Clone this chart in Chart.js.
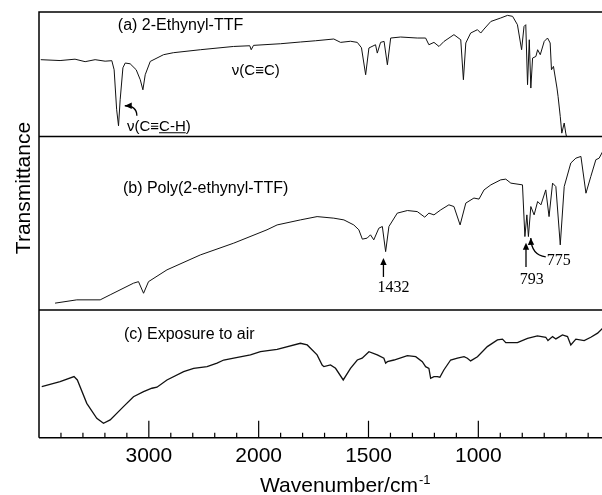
<!DOCTYPE html>
<html>
<head>
<meta charset="utf-8">
<script src="https://cdn.jsdelivr.net/npm/chart.js@4.4.1/dist/chart.umd.min.js"></script>
<style>
    html, body { margin: 0; padding: 0; background: #fff; overflow: hidden; }
</style>
</head>
<body>
<canvas id="ir_chart" width="602" height="495"></canvas>
<script>
// (a) 2-Ethynyl-TTF : 波数(cm-1) と透過率(パネル内 0-100)
const wn_a = [3984, 3808, 3672, 3580, 3489, 3398, 3337, 3316, 3293, 3276, 3261, 3236, 3215, 3170, 3115, 3078, 3054, 3033, 2987, 2866, 2777, 2531, 2230, 2081, 2068, 2047, 1901, 1810, 1741, 1658, 1627, 1582, 1551, 1532, 1513, 1498, 1468, 1460, 1445, 1429, 1414, 1399, 1354, 1278, 1240, 1225, 1202, 1179, 1156, 1111, 1080, 1068, 1057, 1035, 1004, 989, 974, 943, 898, 867, 844, 822, 803, 792, 784, 776, 768, 761, 753, 738, 730, 718, 700, 685, 673, 667, 658, 642, 637, 627, 620, 609, 602, 586, 533, 433];
const t_a = [61.7, 61.0, 62.1, 60.1, 61.7, 60.5, 60.9, 53.6, 21.5, 8.6, 29.5, 55.2, 59.0, 58.4, 53.6, 45.6, 37.5, 49.6, 60.3, 65.7, 67.3, 69.7, 72.3, 72.9, 69.7, 73.2, 74.5, 75.9, 76.9, 78.3, 75.6, 76.5, 75.6, 71.3, 49.6, 71.1, 73.7, 67.0, 75.6, 76.4, 57.6, 79.1, 79.9, 79.1, 79.1, 73.7, 75.6, 72.3, 76.4, 81.8, 77.7, 45.6, 75.1, 83.1, 85.8, 83.1, 86.3, 92.4, 95.2, 97.3, 96.5, 89.8, 69.7, 88.4, 89.8, 41.6, 77.7, 38.9, 63.0, 64.3, 69.7, 65.7, 76.4, 79.1, 75.1, 53.6, 56.3, 38.9, 32.2, 16.1, 2.7, 10.8, 2.7, -10.7, -26.8, -34.8];

// (b) Poly(2-ethynyl-TTF)
const wn_b = [3854, 3656, 3443, 3352, 3140, 3094, 3048, 3003, 2835, 2531, 2227, 1962, 1916, 1810, 1734, 1658, 1612, 1567, 1544, 1528, 1506, 1491, 1476, 1453, 1437, 1422, 1407, 1369, 1323, 1278, 1244, 1225, 1202, 1171, 1134, 1111, 1083, 1057, 1020, 997, 974, 943, 898, 875, 852, 799, 788, 779, 772, 761, 746, 730, 715, 693, 678, 662, 647, 627, 609, 579, 556, 533, 510, 488, 465, 450, 434];
const t_b = [3.9, 5.8, 5.8, 8.7, 15.4, 16.3, 9.6, 16.3, 23.1, 31.7, 38.5, 46.2, 49.0, 51.9, 53.8, 52.9, 51.9, 49.0, 46.2, 40.8, 41.4, 43.3, 40.4, 47.1, 48.1, 33.6, 48.1, 55.8, 57.3, 56.7, 53.5, 55.8, 54.8, 57.7, 60.6, 59.6, 49.0, 61.6, 64.5, 63.9, 69.2, 72.1, 75.0, 75.4, 73.1, 72.1, 42.3, 54.8, 42.3, 59.6, 54.8, 62.5, 60.6, 69.2, 53.8, 73.1, 71.1, 37.5, 71.1, 84.7, 87.5, 88.5, 67.3, 76.9, 86.6, 87.5, 91.3];

// (c) Exposure to air
const wn_c = [3975, 3808, 3681, 3651, 3565, 3474, 3413, 3352, 3231, 3140, 3048, 2972, 2926, 2835, 2683, 2592, 2470, 2379, 2318, 2227, 2075, 1992, 1916, 1810, 1779, 1734, 1711, 1703, 1673, 1650, 1615, 1582, 1551, 1529, 1498, 1460, 1430, 1422, 1414, 1384, 1323, 1285, 1255, 1240, 1225, 1217, 1202, 1187, 1175, 1157, 1126, 1095, 1065, 1050, 1035, 1004, 959, 913, 890, 875, 822, 776, 731, 693, 683, 662, 647, 617, 594, 579, 556, 518, 488, 457, 434];
const t_c = [39.9, 43.9, 47.8, 45.2, 26.9, 15.2, 11.3, 13.9, 24.3, 32.1, 36.0, 38.7, 39.5, 45.2, 51.7, 54.3, 55.6, 58.3, 60.8, 62.2, 64.8, 67.3, 69.2, 73.9, 72.6, 64.8, 56.9, 55.6, 56.9, 54.3, 45.2, 54.3, 60.8, 62.2, 67.3, 64.8, 62.2, 58.3, 59.5, 60.8, 64.2, 63.4, 59.5, 55.6, 54.3, 46.5, 47.8, 47.8, 47.3, 53.0, 60.8, 62.2, 63.4, 62.2, 60.1, 63.4, 71.3, 76.5, 77.1, 74.4, 74.4, 77.8, 79.6, 78.6, 76.0, 79.1, 77.3, 80.4, 79.1, 72.6, 77.1, 76.0, 78.6, 81.8, 85.7];

// 目盛り (波数)
const major_ticks = [3000, 2000, 1500, 1000];
const minor_ticks = [3800, 3600, 3400, 3200, 2800, 2600, 2400, 2200, 1900, 1800, 1700, 1600, 1400, 1300, 1200, 1100, 900, 800, 700, 600, 500];

const sans_font = '"Liberation Sans", Arial, Helvetica, sans-serif';
const serif_font = '"Liberation Serif", "Times New Roman", serif';

// 注記テキスト
const text_labels = [
    { text: '(a) 2-Ethynyl-TTF', axis: 'ya', w: 3282, v: 85.8, font: '16px ' + sans_font },
    { text: 'ν(C≡C)', axis: 'ya', w: 2244, v: 49.6, font: '15px ' + sans_font },
    { text: 'ν(C≡C-H)', axis: 'ya', w: 3199, v: 4.6, font: '15px ' + sans_font },
    { text: '(b) Poly(2-ethynyl-TTF)', axis: 'yb', w: 3236, v: 67.5, font: '16px ' + sans_font },
    { text: '1432', axis: 'yb', w: 1459, v: 10.4, font: '16px ' + serif_font },
    { text: '793', axis: 'yb', w: 811, v: 15.0, font: '16px ' + serif_font },
    { text: '775', axis: 'yb', w: 688, v: 26.0, font: '16px ' + serif_font },
    { text: '(c) Exposure to air', axis: 'yc', w: 3227, v: 77.3, font: '16px ' + sans_font }
];
// 直線の矢印
const straight_arrows = [
    { axis: 'yb', w: 1432, v0: 19.0, v1: 30.0 },
    { axis: 'yb', w: 783, v0: 24.8, v1: 38.7 }
];
// 曲線の矢印
const curved_arrows = [
    { axis: 'ya', from: [3109, 16.6], ctrl: [3109, 24.7], to: [3219, 24.7] },
    { axis: 'yb', from: [693, 30.6], ctrl: [759, 31.7], to: [761, 41.5] }
];

// 波数 -> 横軸の位置 (2000 cm-1 で目盛り間隔が2倍になる)
function toAxisUnit(w) {
    return w >= 2000 ? (4000 - w) / 1000 : 2 + (2000 - w) / 500;
}

// スペクトルのデータ点を作成
function buildPoints(wn, vals) {
    return wn.map(function(w, i) {
        return { x: toAxisUnit(w), y: vals[i] };
    });
}

function createSpectrum(wn, vals, axis_id, width) {
    return {
        data: buildPoints(wn, vals),
        borderColor: '#111',
        borderWidth: width,
        pointRadius: 0,
        tension: 0,
        fill: false,
        xAxisID: 'x',
        yAxisID: axis_id
    };
}

// 矢じりを描く
function drawArrowHead(ctx, x0, y0, x1, y1) {
    const ang = Math.atan2(y1 - y0, x1 - x0);
    const len = 7, half = 3.2;
    ctx.beginPath();
    ctx.moveTo(x1, y1);
    ctx.lineTo(x1 - len * Math.cos(ang) + half * Math.sin(ang), y1 - len * Math.sin(ang) - half * Math.cos(ang));
    ctx.lineTo(x1 - len * Math.cos(ang) - half * Math.sin(ang), y1 - len * Math.sin(ang) + half * Math.cos(ang));
    ctx.closePath();
    ctx.fill();
}

// 枠・目盛り・注記を描くプラグイン
const frame_plugin = {
    id: 'frame_plugin',
    afterDraw(chart) {
        const ctx = chart.ctx;
        const area = chart.chartArea;
        const xs = chart.scales.x;
        const px = function(w) { return xs.getPixelForValue(toAxisUnit(w)); };
        ctx.save();
        ctx.strokeStyle = '#000';
        ctx.fillStyle = '#000';
        ctx.lineWidth = 1.5;
        ctx.beginPath();
        ctx.moveTo(area.left, area.bottom);
        ctx.lineTo(area.left, area.top);
        ctx.lineTo(area.right, area.top);
        ctx.moveTo(area.left, area.bottom);
        ctx.lineTo(area.right, area.bottom);
        [chart.scales.ya.bottom, chart.scales.yb.bottom].forEach(function(y) {
            ctx.moveTo(area.left, y);
            ctx.lineTo(area.right, y);
        });
        ctx.stroke();

        // 内向きの目盛り
        ctx.lineWidth = 1.2;
        ctx.beginPath();
        major_ticks.forEach(function(w) {
            ctx.moveTo(px(w), area.bottom);
            ctx.lineTo(px(w), area.bottom - 17);
        });
        minor_ticks.forEach(function(w) {
            ctx.moveTo(px(w), area.bottom);
            ctx.lineTo(px(w), area.bottom - 5);
        });
        ctx.stroke();

        // 注記テキスト
        ctx.textAlign = 'left';
        ctx.textBaseline = 'alphabetic';
        text_labels.forEach(function(t) {
            ctx.font = t.font;
            const x = px(t.w);
            const y = chart.scales[t.axis].getPixelForValue(t.v);
            ctx.fillText(t.text, x, y);
            if (t.text === 'ν(C≡C-H)') {
                const x0 = x + ctx.measureText('ν(C≡').width;
                const x1 = x0 + ctx.measureText('C-H').width;
                ctx.lineWidth = 1;
                ctx.beginPath();
                ctx.moveTo(x0, y + 2);
                ctx.lineTo(x1, y + 2);
                ctx.stroke();
            }
        });

        // 矢印
        ctx.lineWidth = 1.3;
        straight_arrows.forEach(function(a) {
            const ys = chart.scales[a.axis];
            const x = px(a.w), y0 = ys.getPixelForValue(a.v0), y1 = ys.getPixelForValue(a.v1);
            ctx.beginPath();
            ctx.moveTo(x, y0);
            ctx.lineTo(x, y1 + 4);
            ctx.stroke();
            drawArrowHead(ctx, x, y0, x, y1);
        });
        curved_arrows.forEach(function(a) {
            const ys = chart.scales[a.axis];
            const x0 = px(a.from[0]), y0 = ys.getPixelForValue(a.from[1]);
            const xc = px(a.ctrl[0]), yc = ys.getPixelForValue(a.ctrl[1]);
            const x1 = px(a.to[0]), y1 = ys.getPixelForValue(a.to[1]);
            ctx.beginPath();
            ctx.moveTo(x0, y0);
            ctx.quadraticCurveTo(xc, yc, x1, y1);
            ctx.stroke();
            drawArrowHead(ctx, xc, yc, x1, y1);
        });

        // 軸タイトル
        ctx.font = '21px ' + sans_font;
        ctx.textAlign = 'left';
        ctx.fillText('Wavenumber/cm', 260, 492);
        const tw = ctx.measureText('Wavenumber/cm').width;
        ctx.font = '13px ' + sans_font;
        ctx.fillText('-1', 260 + tw + 1, 484);

        ctx.translate(30, 188);
        ctx.rotate(-Math.PI / 2);
        ctx.font = '21px ' + sans_font;
        ctx.textAlign = 'center';
        ctx.fillText('Transmittance', 0, 0);
        ctx.restore();
    }
};

// グラフを作成
function createChart() {
    const ctx = document.getElementById('ir_chart').getContext('2d');
    const panel_scale = function(weight, stack_weight) {
        return {
            type: 'linear',
            axis: 'y',
            position: 'left',
            display: false,
            min: 0,
            max: 100,
            stack: 'ir',
            stackWeight: stack_weight,
            weight: weight
        };
    };
    new Chart(ctx, {
        type: 'line',
        data: {
            datasets: [
                createSpectrum(wn_a, t_a, 'ya', 1),
                createSpectrum(wn_b, t_b, 'yb', 1),
                createSpectrum(wn_c, t_c, 'yc', 1.3)
            ]
        },
        options: {
            responsive: false,
            animation: false,
            events: [],
            layout: { padding: { left: 39, top: 12, right: 0, bottom: 0 } },
            plugins: {
                legend: { display: false },
                tooltip: { enabled: false }
            },
            scales: {
                x: {
                    type: 'linear',
                    min: 0,
                    max: 5.126,
                    grid: { display: false, drawTicks: false },
                    border: { display: false },
                    afterBuildTicks: function(scale) {
                        scale.ticks = major_ticks.map(function(w) { return { value: toAxisUnit(w) }; });
                    },
                    afterFit: function(scale) {
                        scale.height = 57.3;
                    },
                    ticks: {
                        autoSkip: false,
                        maxRotation: 0,
                        padding: 6,
                        color: '#000',
                        font: { family: sans_font, size: 21 },
                        callback: function(value, index) {
                            return String(major_ticks[index]);
                        }
                    }
                },
                yc: panel_scale(1, 127.7),
                yb: panel_scale(2, 173.3),
                ya: panel_scale(3, 124.4)
            }
        },
        plugins: [frame_plugin]
    });
}

createChart();
</script>
</body>
</html>
